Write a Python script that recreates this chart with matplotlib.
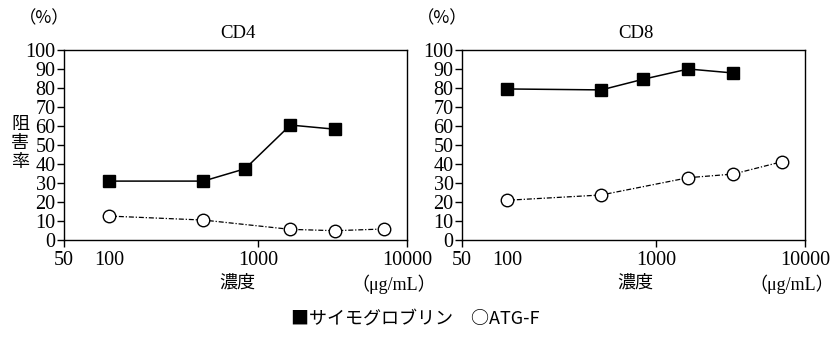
import matplotlib
matplotlib.use("Agg")
import matplotlib.pyplot as plt
from matplotlib.ticker import FixedLocator, FixedFormatter, NullLocator

plt.rcParams['font.family'] = ['Liberation Serif', 'Noto Sans CJK JP', 'DejaVu Sans']

# Data
conc_thymo = [100, 430, 820, 1650, 3300]
conc_atg = [100, 430, 1650, 3300, 7000]
cd4_thymo = [31, 31, 37.5, 60.5, 58.3]
cd4_atg = [12.6, 10.5, 5.6, 4.9, 5.8]
cd8_thymo = [79.5, 79, 84.6, 90, 87.9]
cd8_atg = [20.9, 23.7, 32.8, 34.7, 41.2]

panels = ["CD4", "CD8"]
xticks = [50, 100, 1000, 10000]
xticklabels = ["50", "100", "1000", "10000"]
yticks = list(range(0, 101, 10))
legend_text = "■サイモグロブリン　○ATG-F"
ylabel = "阻\n害\n率"
xlabel = "濃度"
unit = "（μg/mL）"

W, H = 833, 338
fig = plt.figure(figsize=(W / 100, H / 100), dpi=100)

data = [(cd4_thymo, cd4_atg), (cd8_thymo, cd8_atg)]
lefts = [64, 462]
for i, (name, (th, atg)) in enumerate(zip(panels, data)):
    l = lefts[i]
    ax = fig.add_axes([l / W, 1 - 240 / H, 343 / W, 190 / H])
    ax.plot(conc_thymo, th, color='black', lw=1.1, marker='s', ms=9,
            mfc='black', mec='black', zorder=3, clip_on=False)
    ax.plot(conc_atg, atg, color='black', lw=0.9, linestyle=(0, (4, 1.5, 1, 1.5)),
            marker='o', ms=9, mfc='white', mec='black', mew=1.0, zorder=3, clip_on=False)
    ax.set_xscale('log')
    ax.set_xlim(50, 10000)
    ax.set_ylim(0, 100)
    ax.xaxis.set_major_locator(FixedLocator(xticks))
    ax.xaxis.set_major_formatter(FixedFormatter(xticklabels))
    ax.xaxis.set_minor_locator(NullLocator())
    ax.set_yticks(yticks)
    ax.tick_params(axis='both', direction='out', length=5, width=1, labelsize=14.5,
                   color='black', labelcolor='black', pad=1)
    ax.tick_params(axis='x', pad=3)
    ax.xaxis.get_major_ticks()[1].tick1line.set_visible(False)
    for s in ax.spines.values():
        s.set_linewidth(1.0)
        s.set_color('black')
    cx = l + 343 / 2
    fig.text((l - 20) / W, 1 - 18 / H, "（%）", ha='center', va='center', fontsize=12.5,
             family=['Noto Sans CJK JP', 'Liberation Serif'])
    fig.text((cx + 2) / W, 1 - 33 / H, name, ha='center', va='center', fontsize=13.5)
    fig.text((cx + 2) / W, 1 - 283 / H, xlabel, ha='center', va='center', fontsize=13)
    fig.text((l + 330) / W, 1 - 284 / H, unit, ha='center', va='center', fontsize=13)

fig.text(20 / W, 1 - 143 / H, ylabel, ha='center', va='center', fontsize=13, linespacing=1.05,
         family=['Noto Sans CJK JP'])
fig.text(415 / W, 1 - 319 / H, legend_text, ha='center', va='center', fontsize=13,
         family=['Noto Sans CJK JP', 'Liberation Serif'])

fig.savefig("out.png", dpi=100)
